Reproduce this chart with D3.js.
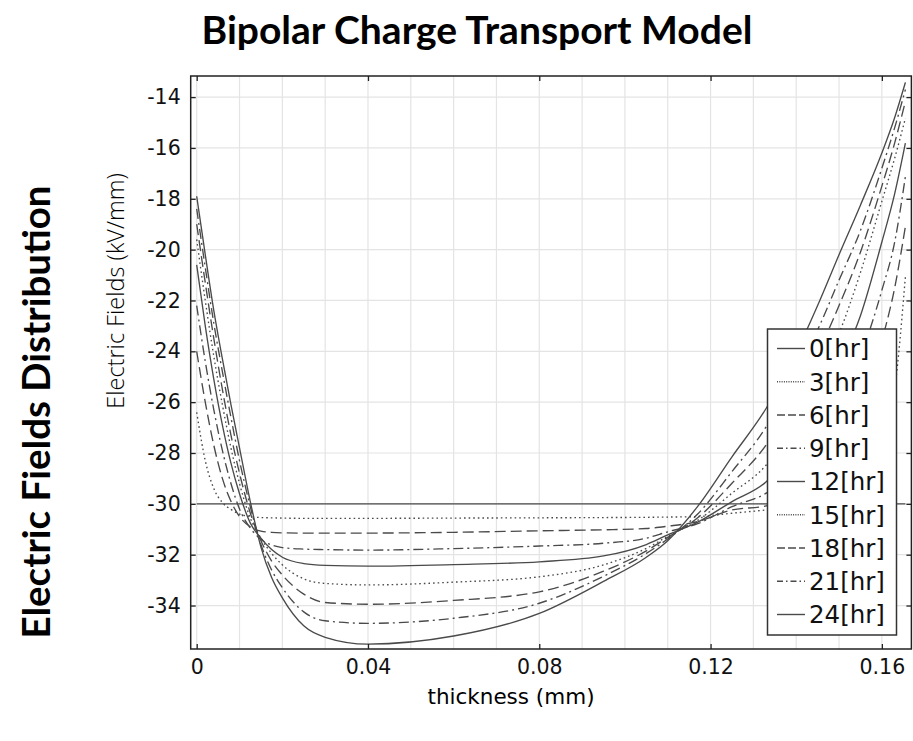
<!DOCTYPE html>
<html>
<head>
<meta charset="utf-8">
<script src="https://cdn.jsdelivr.net/npm/d3@7"></script>
<style>
  body { margin: 0; background: #fff; }
</style>
</head>
<body>
<svg id="chart" width="913" height="741"></svg>
<script>
var thickness = [0, 0.002, 0.004, 0.006, 0.008, 0.01, 0.0125, 0.015, 0.0175, 0.02, 0.025, 0.03, 0.04,
  0.06, 0.08, 0.095, 0.105, 0.11, 0.117, 0.125, 0.133, 0.14, 0.145, 0.15, 0.155, 0.16, 0.163, 0.1655]

// electric field (kV/mm) for each time step
var e0 = [-30, -30, -30, -30, -30, -30, -30, -30, -30, -30, -30, -30, -30, -30, -30, -30, -30, -30, -30, -30, -30, -30, -30, -30, -30, -30, -30, -30]
var e3 = [-26.4, -28.3, -29.4, -29.95, -30.22, -30.4, -30.5, -30.54, -30.55, -30.56, -30.57, -30.57, -30.57,
  -30.56, -30.55, -30.54, -30.53, -30.52, -30.5, -30.37, -30.24, -30.1, -29.9, -29.6, -29.0, -27.5, -25.5, -21.06]
var e6 = [-24.0, -26.0, -27.7, -29.0, -29.9, -30.5, -30.9, -31.07, -31.12, -31.14, -31.15, -31.15, -31.15,
  -31.12, -31.06, -31.02, -30.97, -30.88, -30.7, -30.24, -30.08, -29.6, -29.0, -28.0, -26.6, -23.6, -21.5, -19.09]
var e9 = [-22.2, -24.4, -26.3, -27.9, -29.2, -30.2, -30.95, -31.4, -31.62, -31.72, -31.78, -31.8, -31.82,
  -31.76, -31.66, -31.55, -31.35, -31.1, -30.78, -30.11, -29.58, -28.6, -27.5, -26.0, -24.2, -21.6, -19.7, -17.12]
var e12 = [-20.6, -23.0, -25.1, -26.9, -28.4, -29.6, -30.75, -31.35, -31.8, -32.1, -32.35, -32.42, -32.45,
  -32.39, -32.28, -32.05, -31.6, -31.22, -30.72, -29.91, -29.13, -27.7, -26.3, -24.6, -22.6, -19.7, -17.8, -15.81]
var e15 = [-19.6, -22.0, -24.2, -26.1, -27.8, -29.2, -30.55, -31.35, -31.95, -32.4, -32.95, -33.13, -33.19,
  -33.08, -32.87, -32.4, -31.75, -31.28, -30.65, -29.58, -28.47, -26.7, -25.1, -23.3, -20.9, -18.1, -16.4, -14.83]
var e18 = [-19.0, -21.3, -23.5, -25.5, -27.3, -28.8, -30.35, -31.45, -32.25, -32.8, -33.55, -33.88, -33.95,
  -33.8, -33.46, -32.65, -31.85, -31.32, -30.55, -29.19, -27.68, -25.7, -24.1, -22.2, -20.1, -17.5, -15.8, -14.17]
var e21 = [-18.4, -20.7, -22.9, -24.8, -26.6, -28.3, -30.1, -31.6, -32.6, -33.3, -34.25, -34.6, -34.7,
  -34.5, -33.91, -32.85, -31.95, -31.38, -30.4, -28.73, -26.96, -24.7, -23.15, -21.2, -19.25, -16.8, -15.2, -13.7]
var e24 = [-17.9, -20.2, -22.4, -24.3, -26.1, -27.8, -29.9, -31.7, -32.9, -33.7, -34.8, -35.25, -35.52,
  -35.2, -34.31, -33.05, -32.1, -31.45, -30.1, -28.15, -26.24, -24.05, -22.2, -20.2, -18.25, -16.2, -14.8, -13.42]

var seriesNames = ['0[hr]', '3[hr]', '6[hr]', '9[hr]', '12[hr]', '15[hr]', '18[hr]', '21[hr]', '24[hr]']
var seriesValues = [e0, e3, e6, e9, e12, e15, e18, e21, e24]

var xTicks = [0, 0.04, 0.08, 0.12, 0.16]
var xTickLabels = ['0', '0.04', '0.08', '0.12', '0.16']
var yTicks = [-34, -32, -30, -28, -26, -24, -22, -20, -18, -16, -14]
var yTickLabels = ['-34', '-32', '-30', '-28', '-26', '-24', '-22', '-20', '-18', '-16', '-14']

// solid, dotted, dashed, dash-dot, repeating
var dashes = [null, '1.6,3', '11,5', '10,4,2,4']
var legendDashes = [null, '1,1.3', '8,3', '6,3,1.5,3']

var plotL = 190.7, plotR = 911.4, plotT = 76, plotB = 649

var svg = d3.select('#chart')

var x = d3.scaleLinear().domain([-0.0014, 0.1669]).range([plotL, plotR])
var y = d3.scaleLinear().domain([-35.71, -13.17]).range([plotB, plotT])

svg.append('defs').append('clipPath').attr('id', 'plot-clip')
  .append('rect').attr('x', plotL).attr('y', plotT)
  .attr('width', plotR - plotL).attr('height', plotB - plotT)

// grid
var grid = svg.append('g').attr('class', 'grid')
grid.selectAll('line.gx').data(d3.range(0, 17).map(function (i) { return i / 100 }))
  .enter().append('line').attr('class', 'gx')
  .attr('x1', function (d) { return x(d) }).attr('x2', function (d) { return x(d) })
  .attr('y1', plotT).attr('y2', plotB)
  .attr('stroke', '#e4e4e4').attr('stroke-width', 1.2)
grid.selectAll('line.gy').data(yTicks)
  .enter().append('line').attr('class', 'gy')
  .attr('x1', plotL).attr('x2', plotR)
  .attr('y1', function (d) { return y(d) }).attr('y2', function (d) { return y(d) })
  .attr('stroke', '#e4e4e4').attr('stroke-width', 1.2)

// curves
var line = d3.line()
  .x(function (d) { return x(d[0]) })
  .y(function (d) { return y(d[1]) })
  .curve(d3.curveMonotoneX)

svg.append('g').attr('clip-path', 'url(#plot-clip)')
  .selectAll('path').data(seriesValues)
  .enter().append('path')
  .attr('d', function (vals) { return line(thickness.map(function (t, i) { return [t, vals[i]] })) })
  .attr('fill', 'none')
  .attr('stroke', '#4a4a4a')
  .attr('stroke-width', 1.35)
  .attr('stroke-dasharray', function (d, i) { return dashes[i % 4] })

// axes, ticks pointing inward
var font = 'DejaVu Sans, sans-serif'

var yAxis = svg.append('g').attr('transform', 'translate(' + plotL + ',0)')
  .call(d3.axisLeft(y).tickValues(yTicks).tickSize(-5).tickPadding(10)
    .tickFormat(function (d, i) { return yTickLabels[i] }))
var xAxis = svg.append('g').attr('transform', 'translate(0,' + plotB + ')')
  .call(d3.axisBottom(x).tickValues(xTicks).tickSize(-5).tickPadding(10)
    .tickFormat(function (d, i) { return xTickLabels[i] }))
svg.append('g').attr('transform', 'translate(' + plotR + ',0)')
  .call(d3.axisRight(y).tickValues(yTicks).tickSize(-5).tickFormat(''))
svg.append('g').attr('transform', 'translate(0,' + plotT + ')')
  .call(d3.axisTop(x).tickValues(xTicks).tickSize(-5).tickFormat(''))

svg.selectAll('.domain').remove()
svg.selectAll('.tick line').attr('stroke', '#222').attr('stroke-width', 1.3)
yAxis.selectAll('text').attr('font-family', font).attr('font-size', 20.5).attr('fill', '#111')
xAxis.selectAll('text').attr('font-family', font).attr('font-size', 20.5).attr('fill', '#111')

svg.append('rect')
  .attr('x', plotL).attr('y', plotT).attr('width', plotR - plotL).attr('height', plotB - plotT)
  .attr('fill', 'none').attr('stroke', '#222').attr('stroke-width', 1.5)

// legend
var legend = svg.append('g')
legend.append('rect')
  .attr('x', 767.5).attr('y', 329).attr('width', 129).attr('height', 306)
  .attr('fill', '#fff').attr('stroke', '#333').attr('stroke-width', 1.5)
var entry = legend.selectAll('g.entry').data(seriesNames)
  .enter().append('g').attr('class', 'entry')
  .attr('transform', function (d, i) { return 'translate(0,' + (348.5 + i * 33.25) + ')' })
entry.append('line')
  .attr('x1', 777).attr('x2', 805).attr('y1', 0).attr('y2', 0)
  .attr('stroke', '#4a4a4a').attr('stroke-width', 1.4)
  .attr('stroke-dasharray', function (d, i) { return legendDashes[i % 4] })
entry.append('text')
  .attr('x', 809).attr('y', 0).attr('dy', '0.36em')
  .attr('font-family', font).attr('font-size', 24.5).attr('fill', '#111')
  .text(function (d) { return d })

// titles
svg.append('text')
  .attr('x', 477).attr('y', 44).attr('text-anchor', 'middle')
  .attr('font-family', 'Lato, sans-serif').attr('font-weight', 'bold').attr('font-size', 39)
  .attr('fill', '#000')
  .text('Bipolar Charge Transport Model')

svg.append('text')
  .attr('transform', 'translate(50,412) rotate(-90)').attr('text-anchor', 'middle')
  .attr('font-family', 'Lato, sans-serif').attr('font-weight', 'bold').attr('font-size', 38.5)
  .attr('fill', '#000')
  .text('Electric Fields Distribution')

svg.append('text')
  .attr('transform', 'translate(124,291) rotate(-90)').attr('text-anchor', 'middle')
  .attr('font-family', 'Open Sans, sans-serif').attr('font-weight', 300).attr('font-size', 23.5)
  .attr('fill', '#000')
  .text('Electric Fields (kV/mm)')

svg.append('text')
  .attr('x', 511).attr('y', 704).attr('text-anchor', 'middle')
  .attr('font-family', font).attr('font-size', 21.5)
  .attr('fill', '#000')
  .text('thickness (mm)')
</script>
</body>
</html>
